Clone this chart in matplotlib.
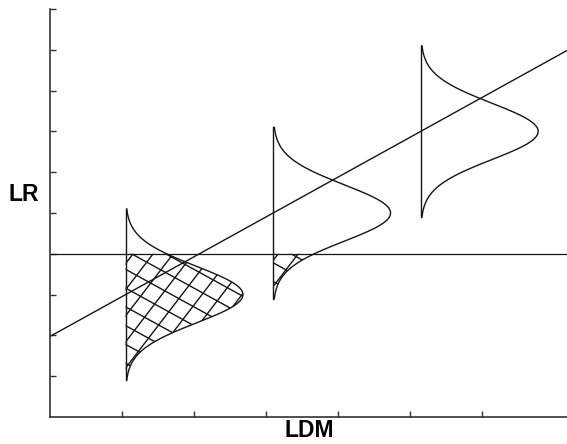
import numpy as np
import matplotlib.pyplot as plt
from matplotlib.patches import Polygon

# schematic: LR against LDM, three normal curves sitting on the regression line
dist_x = [1.05, 3.1, 5.15]        # LDM position of each curve's baseline
dist_mean = [3.0, 5.0, 7.0]       # LR at the centre of each curve
dist_sd = 0.69
dist_height = 1.63                # peak width of the curves (in LDM units)
dist_span = 2.1                   # half length of each baseline
hatched = [True, True, False]

threshold = 4.0                   # horizontal LR cut-off
line_intercept = 1.975
line_slope = 0.976

x_ticks = [1, 2, 3, 4, 5, 6]
y_ticks = [1, 2, 3, 4, 5, 6, 7, 8, 9, 10]

ink = "#151515"

fig = plt.figure(figsize=(5.67, 4.44), dpi=100)
ax = fig.add_axes([50 / 567, 1 - 417 / 444, 517 / 567, 408 / 444])
ax.set_xlim(0, 517 / 72)
ax.set_ylim(0, 10)

for s in ["top", "right"]:
    ax.spines[s].set_visible(False)
for s in ["left", "bottom"]:
    ax.spines[s].set_color("#333333")
    ax.spines[s].set_linewidth(1.2)

ax.set_xticks(x_ticks)
ax.set_yticks(y_ticks)
ax.tick_params(direction="in", length=4, width=1, color="#333333",
               labelbottom=False, labelleft=False)

# threshold and regression line
ax.axhline(threshold, color=ink, lw=0.9)
xl = np.array(ax.get_xlim())
ax.plot(xl, line_intercept + line_slope * xl, color=ink, lw=1.0)

for x0, mu, hatch in zip(dist_x, dist_mean, hatched):
    yy = np.linspace(mu - dist_span, mu + dist_span, 300)
    xx = x0 + dist_height * np.exp(-(yy - mu) ** 2 / (2 * dist_sd ** 2))
    ax.plot([x0, x0], [yy[0], yy[-1]], color=ink, lw=1.0)
    ax.plot(xx, yy, color=ink, lw=1.0)

    if hatch:
        m = yy <= threshold
        ys = np.append(yy[m], threshold)
        xs = np.append(xx[m], x0 + dist_height * np.exp(-(threshold - mu) ** 2 / (2 * dist_sd ** 2)))
        verts = np.vstack([np.column_stack([xs, ys]), [[x0, threshold], [x0, ys[0]]]])
        poly = Polygon(verts, closed=True, fill=False, lw=0)
        ax.add_patch(poly)
        # cross hatching with two slanted line families
        for slope, step in [(-0.97, 0.46), (2.3, 0.64)]:
            for c in np.arange(-20, 25, step):
                hx = np.array([x0 - 1, x0 + 3])
                ln, = ax.plot(hx, c + slope * (hx - x0) + mu - 1.0, color=ink, lw=1.0)
                ln.set_clip_path(poly)

ax.set_ylabel("LR", rotation=0, fontsize=16.5, fontweight="bold",
              family="Liberation Sans", ha="center", va="center")
ax.yaxis.set_label_coords(-0.050, 0.545)
ax.set_xlabel("LDM", fontsize=16.5, fontweight="bold",
              family="Liberation Sans", ha="center", va="center")
ax.xaxis.set_label_coords(0.502, -0.034)

fig.savefig("out.png", dpi=100)
